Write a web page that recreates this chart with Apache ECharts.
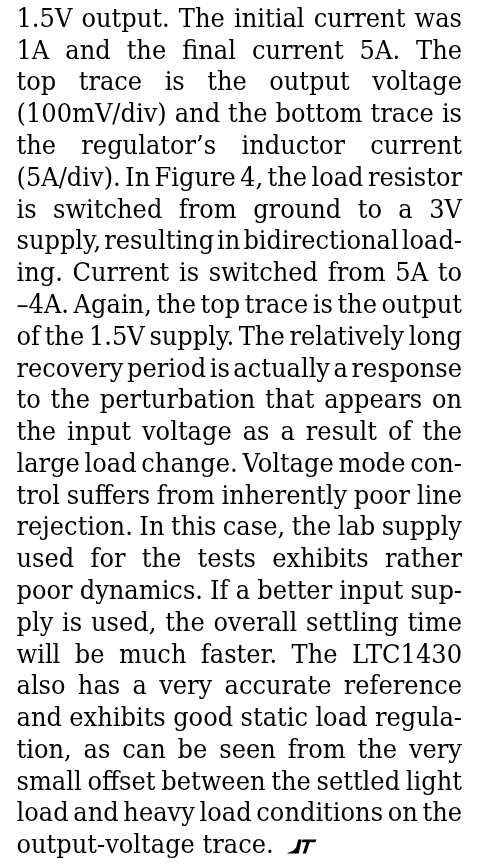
<!DOCTYPE html>
<html>
<head>
<meta charset="utf-8">
<script src="https://cdn.jsdelivr.net/npm/echarts@6/dist/echarts.min.js"></script>
<style>
  html, body { margin: 0; padding: 0; background: #fff; }
  #chart { width: 482px; height: 865px; }
</style>
</head>
<body>
<div id="chart"></div>
<script>
// paragraph lines, as typeset in the reference
var lines = [
    '1.5V output. The initial current was',
    '1A and the final current 5A. The',
    'top trace is the output voltage',
    '(100mV/div) and the bottom trace is',
    'the regulator\u2019s inductor current',
    '(5A/div). In Figure 4, the load resistor',
    'is switched from ground to a 3V',
    'supply, resulting in bidirectional load-',
    'ing. Current is switched from 5A to',
    '\u20134A. Again, the top trace is the output',
    'of the 1.5V supply. The relatively long',
    'recovery period is actually a response',
    'to the perturbation that appears on',
    'the input voltage as a result of the',
    'large load change. Voltage mode con-',
    'trol suffers from inherently poor line',
    'rejection. In this case, the lab supply',
    'used for the tests exhibits rather',
    'poor dynamics. If a better input sup-',
    'ply is used, the overall settling time',
    'will be much faster. The LTC1430',
    'also has a very accurate reference',
    'and exhibits good static load regula-',
    'tion, as can be seen from the very',
    'small offset between the settled light',
    'load and heavy load conditions on the',
    'output-voltage trace.'
];

var fontSize = 26;
var fontFamily = '"DejaVu Serif"';
var font = fontSize + 'px ' + fontFamily;
var left = 16.5;
var right = 462;
var firstBase = 27.2;
var pitch = 31.78;
var minSpace = 3;
var baseShift = fontSize * 0.23; // bottom-aligned text -> baseline

var ctx = document.createElement('canvas').getContext('2d');
ctx.font = font;
function w(s) { return ctx.measureText(s).width; }

// one horizontal squeeze for the whole column, set by the tightest line
var squeeze = 1;
lines.forEach(function (line, i) {
    if (i === lines.length - 1) return;
    var words = line.split(' ');
    var sum = 0;
    words.forEach(function (wd) { sum += w(wd); });
    var s = (right - left - (words.length - 1) * minSpace) / sum;
    if (s < squeeze) squeeze = s;
});

var elements = [];
var lastEnd = left;
lines.forEach(function (line, i) {
    var words = line.split(' ');
    var widths = words.map(function (wd) { return w(wd) * squeeze; });
    var sum = widths.reduce(function (a, b) { return a + b; }, 0);
    var gap = (i === lines.length - 1 || words.length < 2)
        ? w(' ') * squeeze
        : (right - left - sum) / (words.length - 1);
    var x = left;
    var base = firstBase + i * pitch;
    words.forEach(function (wd, k) {
        elements.push({
            type: 'text',
            x: x,
            y: base + baseShift,
            scaleX: squeeze,
            style: {
                text: wd,
                font: font,
                fill: '#000',
                align: 'left',
                verticalAlign: 'bottom'
            }
        });
        x += widths[k] + gap;
    });
    lastEnd = x - gap;
});

// LT logo after the last line
var lb = firstBase + (lines.length - 1) * pitch;
var lx = lastEnd + 13;
elements.push({
    type: 'group',
    x: lx,
    y: lb,
    children: [
        {
            type: 'polygon',
            shape: { points: [[0, 0], [12, 0], [15, -14], [11.5, -14], [9.5, -6], [6, -2.5], [2, -1]] },
            style: { fill: '#000' }
        },
        {
            type: 'polygon',
            shape: { points: [[16, -14], [30, -14], [28.5, -11.2], [23, -11.2], [19.3, 0], [16, 0], [19.7, -11.2], [14.8, -11.2]] },
            style: { fill: '#000' }
        }
    ]
});

var chart = echarts.init(document.getElementById('chart'), null, { renderer: 'canvas' });
chart.setOption({
    backgroundColor: '#fff',
    animation: false,
    graphic: { elements: elements }
});
</script>
</body>
</html>
